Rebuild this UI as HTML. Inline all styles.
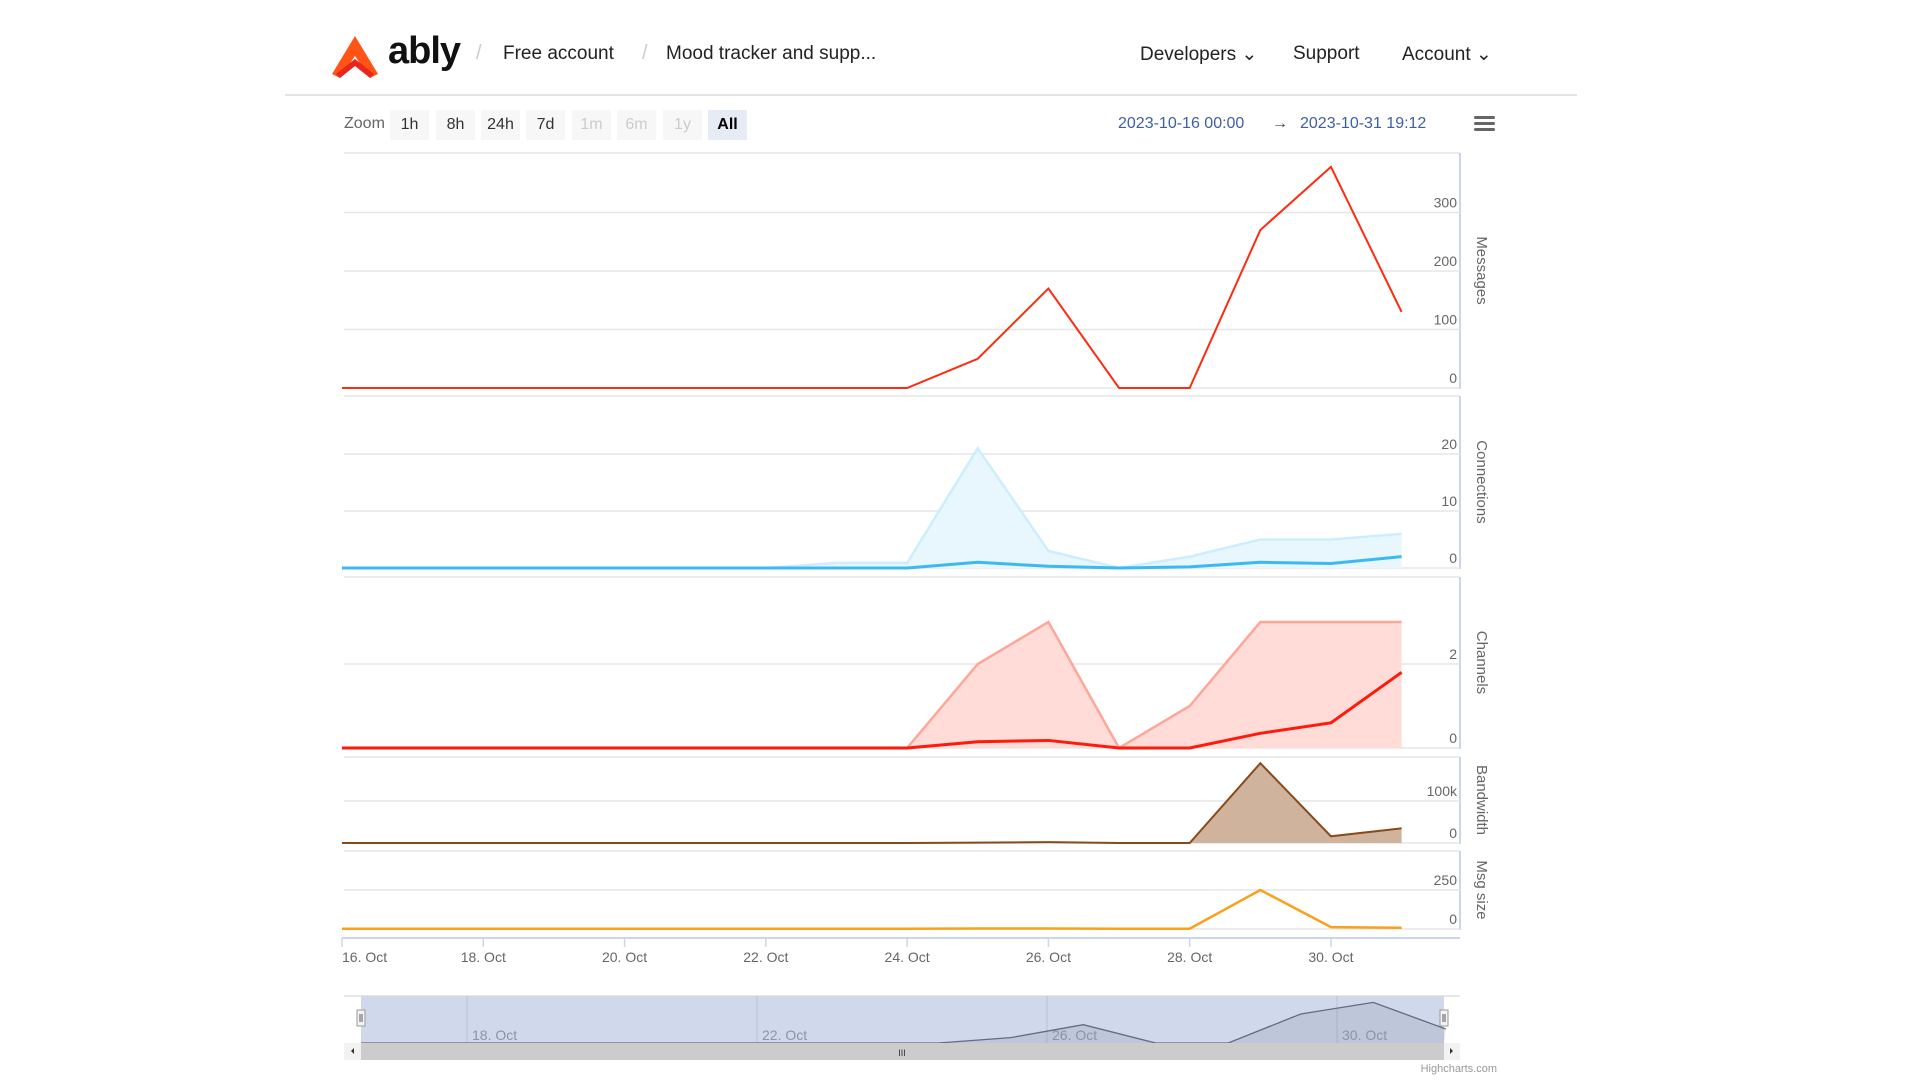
<!DOCTYPE html>
<html><head><meta charset="utf-8">
<style>
body{margin:0;background:#fff;font-family:"Liberation Sans",sans-serif;}
#wrap{position:relative;width:1920px;height:1080px;overflow:hidden;}
.hdr{position:absolute;top:0;left:0;width:1920px;height:95px;}
.t{position:absolute;white-space:nowrap;}
.hline{position:absolute;left:285px;top:94px;width:1292px;height:2px;background:#e4e4e4;}
.zb{position:absolute;top:110px;width:39px;height:30px;background:#f7f7f7;font-size:16px;line-height:30px;text-align:center;color:#333;}
.zb.dis{color:#ccc;}
.zb.act{background:#e6ebf5;color:#000;font-weight:bold;}
</style></head><body>
<div id="wrap">
<div class="hdr">
  <svg style="position:absolute;left:330px;top:34px" width="50" height="44">
    <polygon points="25,2 48,40 40,44 25,22 10,44 2,40" fill="#ff5416"/>
    <polygon points="6,40 25,25 44,40 40,44 25,32 10,44" fill="#e8261c"/>
  </svg>
  <div class="t" style="left:388px;top:30px;font-size:38px;font-weight:bold;color:#111;letter-spacing:-1px">ably</div>
  <div class="t" style="left:476px;top:42px;font-size:20px;color:#ccc">/</div>
  <div class="t" style="left:503px;top:43px;font-size:19px;color:#222">Free account</div>
  <div class="t" style="left:642px;top:42px;font-size:20px;color:#ccc">/</div>
  <div class="t" style="left:666px;top:43px;font-size:19px;color:#222">Mood tracker and supp...</div>
  <div class="t" style="left:1140px;top:43px;font-size:19px;color:#222">Developers ⌄</div>
  <div class="t" style="left:1293px;top:43px;font-size:19px;color:#222">Support</div>
  <div class="t" style="left:1402px;top:43px;font-size:19px;color:#222">Account ⌄</div>
</div>
<div class="hline"></div>
<div class="t" style="left:344px;top:115px;font-size:16px;color:#666">Zoom</div>
<div class="zb" style="left:390px">1h</div>
<div class="zb" style="left:436px">8h</div>
<div class="zb" style="left:481px">24h</div>
<div class="zb" style="left:526px">7d</div>
<div class="zb dis" style="left:572px">1m</div>
<div class="zb dis" style="left:617px">6m</div>
<div class="zb dis" style="left:663px">1y</div>
<div class="zb act" style="left:708px">All</div>
<div class="t" style="left:1118px;top:115px;font-size:16px;color:#3e5ea8">2023-10-16 00:00</div>
<div class="t" style="left:1272px;top:115px;font-size:16px;color:#444">→</div>
<div class="t" style="left:1300px;top:115px;font-size:16px;color:#3e5ea8">2023-10-31 19:12</div>
<svg style="position:absolute;left:1474px;top:114px" width="22" height="20">
  <rect x="0" y="2" width="21" height="3" rx="1.5" fill="#666"/><rect x="0" y="8" width="21" height="3" rx="1.5" fill="#666"/><rect x="0" y="14" width="21" height="3" rx="1.5" fill="#666"/>
</svg>
<svg id="chart" style="position:absolute;left:0;top:0" width="1920" height="1080"></svg>
</div>
<script>
const days=[16,17,18,19,20,21,22,23,24,25,26,27,28,29,30,31];
const messages=[0,0,0,0,0,0,0,0,0,50,170,0,0,270,378,130];
const connArea=[0,0,0,0,0,0,0,0.9,0.9,21,3,0,2,5,5,6];
const connLine=[0,0,0,0,0,0,0,0,0,1,0.3,0,0.2,1,0.8,2];
const chanArea=[0,0,0,0,0,0,0,0,0,2,3,0,1,3,3,3];
const chanLine=[0,0,0,0,0,0,0,0,0,0.15,0.18,0,0,0.35,0.6,1.8];
const bandwidth=[0,0,0,0,0,0,0,0,0,1000,2000,0,0,190000,16000,35000];
const msgSize=[2,2,2,2,2,2,2,2,2,3,3,2,2,250,12,8];
const xTicks=[16,18,20,22,24,26,28,30];
const navTicks=[18,22,26,30];
const msgTicks=[0,100,200,300];
const connTicks=[0,10,20];
const chanTicks=[0,2];
const bwTicks=[0,100000];
const bwTickLabels=["0","100k"];
const sizeTicks=[0,250];

const svg=document.getElementById('chart');
const NS='http://www.w3.org/2000/svg';
function el(tag,attrs,parent){const e=document.createElementNS(NS,tag);for(const k in attrs)e.setAttribute(k,attrs[k]);(parent||svg).appendChild(e);return e;}
const L=344,R=1460;
const x=d=>342+(d-16)*70.64;
const panes=[
 {name:'messages',top:153,zero:388,per:58.5/100,ticks:msgTicks,title:'Messages'},
 {name:'connections',top:396,zero:568,per:5.7,ticks:connTicks,title:'Connections'},
 {name:'channels',top:577,zero:748,per:42,ticks:chanTicks,title:'Channels'},
 {name:'bandwidth',top:757,zero:843,per:42/100000,ticks:bwTicks,labels:bwTickLabels,title:'Bandwidth'},
 {name:'msg-size',top:851,zero:929,per:39/250,ticks:sizeTicks,title:'Msg size'}
];
panes.forEach(p=>{
  p.y=v=>p.zero-v*p.per;
  let g=el('line',{x1:L,x2:R,y1:p.top,y2:p.top,stroke:'#e6e6e6','stroke-width':1.5});
  
  
  let ax=el('line',{x1:R,x2:R,y1:p.top,y2:p.zero+1,stroke:'#ccd6eb','stroke-width':2});
  
  
  p.ticks.forEach((t,i)=>{
    const yy=p.y(t);
    const gl=el('line',{x1:L,x2:R,y1:yy,y2:yy,stroke:'#e6e6e6','stroke-width':1.5});
    
    
    const tx=el('text',{x:R-3,y:yy-5,'text-anchor':'end','font-size':14,fill:'#666'});
    tx.textContent=p.labels?p.labels[i]:String(t);
    
    
  });
  const cy=(p.top+p.zero)/2;
  const tt=el('text',{x:1477,y:cy,'text-anchor':'middle','font-size':15,fill:'#666',transform:'rotate(90 1477 '+cy+')'});
  tt.textContent=p.title;
  
  
});
function linePts(arr,p){return arr.map((v,i)=>x(days[i])+','+p.y(v)).join(' ');}
function areaPts(arr,p){return x(days[0])+','+p.zero+' '+linePts(arr,p)+' '+x(days[arr.length-1])+','+p.zero;}
const P=Object.fromEntries(panes.map(p=>[p.name,p]));
let e;
e=el('polyline',{points:linePts(messages,P.messages),fill:'none',stroke:'#ff2a12','stroke-width':2});


e=el('polygon',{points:areaPts(connArea,P.connections),fill:'#e8f6fd',stroke:'none'});


e=el('polyline',{points:linePts(connArea,P.connections),fill:'none',stroke:'#cdeefc','stroke-width':2.5});


e=el('polyline',{points:linePts(connLine,P.connections),fill:'none',stroke:'#3db9f2','stroke-width':3});


e=el('polygon',{points:areaPts(chanArea,P.channels),fill:'#ffdcd7',stroke:'none'});


e=el('polyline',{points:linePts(chanArea,P.channels),fill:'none',stroke:'#ffa69a','stroke-width':2.5});


e=el('polyline',{points:linePts(chanLine,P.channels),fill:'none',stroke:'#ff1a0a','stroke-width':3});


e=el('polygon',{points:areaPts(bandwidth,P.bandwidth),fill:'#cfb39c',stroke:'none'});


e=el('polyline',{points:linePts(bandwidth,P.bandwidth),fill:'none',stroke:'#8a4a18','stroke-width':2});


e=el('polyline',{points:linePts(msgSize,P['msg-size']),fill:'none',stroke:'#f9a11b','stroke-width':2.5});


// x axis
e=el('line',{x1:L-2,x2:R,y1:938,y2:938,stroke:'#ccd6eb','stroke-width':2});


xTicks.forEach((d,i)=>{
  const tk=el('line',{x1:x(d),x2:x(d),y1:938,y2:947,stroke:'#ccd6eb','stroke-width':1.5});
  
  
  const t=el('text',{x:i===0?x(d):x(d),y:962,'font-size':14,fill:'#666','text-anchor':i===0?'start':'middle'});
  t.textContent=d+'. Oct';
  
  
});
// navigator
const NT=996,NB=1043;
const nx=d=>1047+(d-26)*72.5;
const nmax=400;
const ny=v=>NB-v/nmax*(NB-NT-4);
e=el('rect',{x:L,y:NT,width:R-L,height:NB-NT,fill:'#fff'});


e=el('line',{x1:L,x2:R,y1:NT,y2:NT,stroke:'#ccc','stroke-width':1});


e=el('rect',{x:361,y:NT,width:1083,height:NB-NT,fill:'#d0d9eb'});


navTicks.forEach(d=>{
  const g=el('line',{x1:nx(d),x2:nx(d),y1:NT,y2:NB,stroke:'#b9c3d6','stroke-width':1});
  
  
});
const navPts=messages.map((v,i)=>Math.max(nx(days[i]+0.5),361)+','+Math.min(ny(v),NB)).join(' ');
e=el('polygon',{points:nx(days[0]+0.5)+','+NB+' '+navPts+' '+Math.min(nx(days[15]+0.5),1444)+','+NB,fill:'rgba(110,110,140,0.18)',stroke:'none'});


e=el('polyline',{points:navPts,fill:'none',stroke:'#666a80','stroke-width':1.3});


navTicks.forEach(d=>{
  const t=el('text',{x:nx(d)+5,y:NB-3,'font-size':14,fill:'#8a94aa'});
  t.textContent=d+'. Oct';
  
  
});
[361,1444].forEach((hx,i)=>{
  const h=el('rect',{x:hx-4,y:1010,width:8,height:16,fill:'#f2f2f2',stroke:'#999','stroke-width':1});
  
  
  el('line',{x1:hx-1,x2:hx-1,y1:1014,y2:1022,stroke:'#333','stroke-width':0.8});
  el('line',{x1:hx+1,x2:hx+1,y1:1014,y2:1022,stroke:'#333','stroke-width':0.8});
});
e=el('rect',{x:L,y:NB,width:R-L,height:17,fill:'#f2f2f2'});


e=el('rect',{x:361,y:NB,width:1083,height:17,fill:'#cccccc'});


e=el('text',{x:902,y:1056,'font-size':9,fill:'#333','text-anchor':'middle'});
e.textContent='III';


e=el('polygon',{points:'354,1048 354,1054 351,1051',fill:'#333'});


e=el('polygon',{points:'1450,1048 1450,1054 1453,1051',fill:'#333'});


e=el('text',{x:1497,y:1072,'font-size':11,fill:'#999','text-anchor':'end'});
e.textContent='Highcharts.com';


</script>
</body></html>
